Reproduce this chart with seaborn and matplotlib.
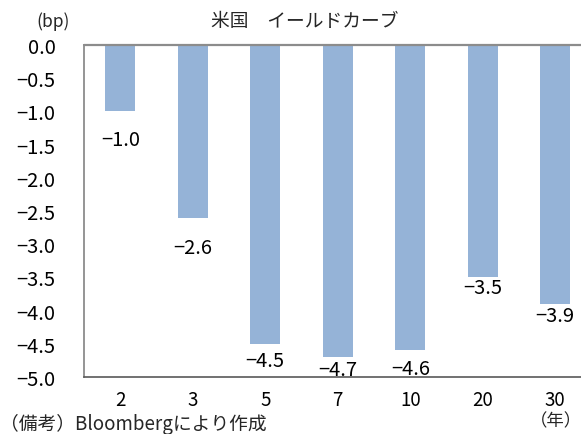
import numpy as np
import pandas as pd
import matplotlib
matplotlib.use("Agg")
import matplotlib.pyplot as plt
import seaborn as sns

# Change in US Treasury yields by maturity (bp)
maturities = ["2", "3", "5", "7", "10", "20", "30"]
changes = [-1.0, -2.6, -4.5, -4.7, -4.6, -3.5, -3.9]
y_ticks = [-5.0, -4.5, -4.0, -3.5, -3.0, -2.5, -2.0, -1.5, -1.0, -0.5, 0.0]

title = "米国　イールドカーブ"
unit_label = "(bp)"
x_unit_label = "（年）"
source_note = "（備考）Bloombergにより作成"

# per-label gap (pixels) between bar end and its value label
label_gaps = [18, 19, 6, 2, 8, 0, 1]

sns.set_style("white")
plt.rcParams["font.family"] = ["Noto Sans CJK JP", "DejaVu Sans"]

W, H = 581, 435
fig = plt.figure(figsize=(W / 100, H / 100), dpi=100)
fig.patch.set_facecolor("white")
ax = fig.add_axes([84 / W, 57 / H, 507.5 / W, 332 / H])

df = pd.DataFrame({"maturity": maturities, "change": changes})
sns.barplot(data=df, x="maturity", y="change", order=maturities,
            color="#95b3d7", saturation=1, width=0.41, linewidth=0,
            ax=ax)

ax.set_ylim(-5.0, 0.0)
ax.set_xlim(-0.5, len(maturities) - 0.5)
ax.set_yticks(y_ticks)
ax.set_yticklabels([f"{v:.1f}".replace("-", "−") for v in y_ticks])
ax.set_xlabel("")
ax.set_ylabel("")

for side in ["top", "right"]:
    ax.spines[side].set_visible(False)
ax.spines["left"].set_color("#8c8c8c")
ax.spines["left"].set_linewidth(1.3)
ax.spines["bottom"].set_color("#595959")
ax.spines["bottom"].set_linewidth(1.2)
ax.axhline(0, color="#8c8c8c", linewidth=1.6, zorder=2.6, clip_on=False)

ax.tick_params(axis="y", direction="out", length=4.5, width=1.0,
               color="#8c8c8c", pad=16, labelsize=14.5, labelcolor="black")
ax.tick_params(axis="x", length=0, pad=8.5, labelsize=13.5, labelcolor="black")

for i, (v, g) in enumerate(zip(changes, label_gaps)):
    ax.annotate(f"{v:.1f}".replace("-", "−"), xy=(i, v),
                xytext=(0, -g), textcoords="offset pixels",
                ha="center", va="top", fontsize=14.5, color="black",
                zorder=2, annotation_clip=False)

def ftext(x, y, s, **kw):
    fig.text(x / W, 1 - y / H, s, **kw)

ftext(53, 22, unit_label, ha="center", va="center", fontsize=12.5)
ftext(305, 22, title, ha="center", va="center", fontsize=13.5)
ftext(556, 421, x_unit_label, ha="center", va="center", fontsize=12.5)
ftext(0, 435, source_note, ha="left", va="bottom", fontsize=13.5)

fig.savefig("out.png", dpi=100, facecolor="white")
